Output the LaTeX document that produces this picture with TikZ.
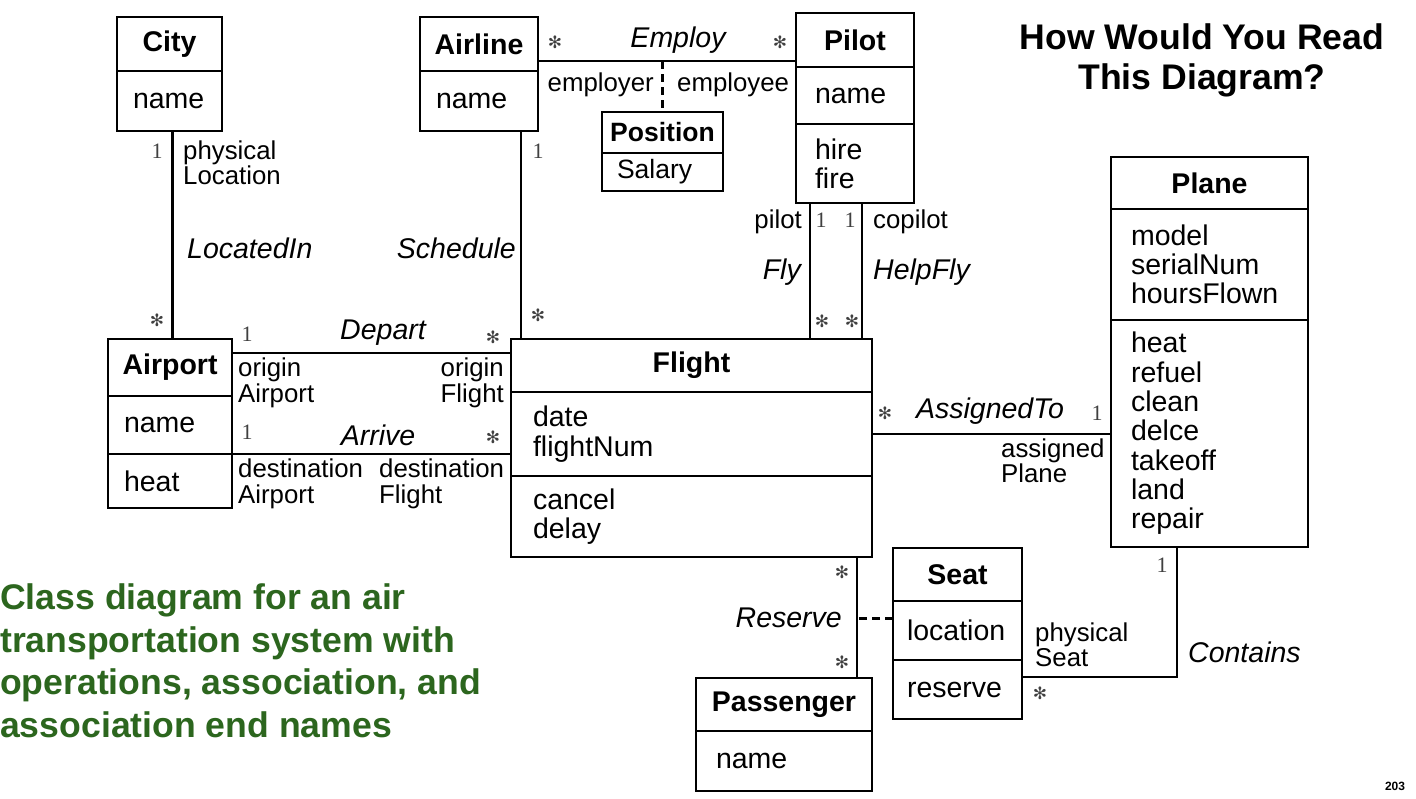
\documentclass[tikz,border=0pt]{standalone}
\usepackage{fontspec}
\setmainfont{Liberation Sans}
\newfontfamily\tms{Liberation Serif}
\newfontfamily\djv{DejaVu Sans}
\usetikzlibrary{positioning}

\newcommand{\cfont}{\fontsize{28.5}{29.3}\selectfont}
\newcommand{\efont}{\fontsize{25.8}{25.5}\selectfont}
\newcommand{\mfont}{\fontsize{22}{22}\selectfont\tms}
\newcommand{\mstar}{{\djv\fontsize{17}{17}\selectfont ✻}}
\definecolor{capgreen}{RGB}{44,102,30}

\tikzset{
  box/.style={draw, line width=1.8pt, inner sep=0pt, outer sep=0pt},
  head/.style={box, font=\cfont\bfseries},
  comp/.style={box, font=\cfont, align=left, inner xsep=18pt},
  assoc/.style={font=\cfont\itshape, inner sep=0pt},
  role/.style={font=\efont, align=left, inner sep=0pt},
  mult/.style={font=\mfont, text=black!75, inner sep=0pt},
  link/.style={line width=2.2pt},
}

\begin{document}
\begin{tikzpicture}[x=1pt, y=-1pt, node distance=0pt]
 \useasboundingbox (0,0) rectangle (1416,798);

 % classes
 \node[head, minimum width=105pt, minimum height=54pt, anchor=north west] (city) at (117,17) {City};
 \node[comp, inner xsep=16pt, text width=73pt, minimum height=60pt, below=of city] (cityattr) {name};

 \node[head, minimum width=118pt, minimum height=54pt, anchor=north west] (airline) at (420,17) {Airline};
 \node[comp, inner xsep=16pt, text width=86pt, minimum height=60pt, below=of airline] (airlineattr) {name};

 \node[head, minimum width=118pt, minimum height=54pt, anchor=north west] (pilot) at (796,13) {Pilot};
 \node[comp, inner xsep=19pt, text width=80pt, minimum height=57pt, below=of pilot] (pilotattr) {name};
 \node[comp, inner xsep=19pt, text width=80pt, minimum height=79pt, below=of pilotattr] (pilotops) {hire\\fire};

 \node[head, font=\fontsize{26.5}{27}\selectfont\bfseries, minimum width=121pt, minimum height=41pt, anchor=north west] (position) at (602,112) {Position};
 \node[comp, font=\fontsize{26.5}{27}\selectfont, inner xsep=15pt, text width=91pt, minimum height=38pt, below=of position] (positionattr) {Salary};

 \node[head, minimum width=197pt, minimum height=52pt, anchor=north west] (plane) at (1111,157) {Plane};
 \node[comp, inner xsep=20pt, text width=157pt, minimum height=111pt, below=of plane] (planeattr) {model\\serialNum\\hoursFlown};
 \node[comp, inner xsep=20pt, text width=157pt, minimum height=227pt, below=of planeattr] (planeops) {heat\\refuel\\clean\\delce\\takeoff\\land\\repair};

 \node[head, minimum width=124pt, minimum height=57pt, anchor=north west] (airport) at (108,339) {Airport};
 \node[comp, inner xsep=16pt, text width=92pt, minimum height=58pt, below=of airport] (airportattr) {name};
 \node[comp, inner xsep=16pt, text width=92pt, minimum height=54pt, below=of airportattr] (airportops) {heat};

 \node[head, minimum width=361pt, minimum height=53pt, anchor=north west] (flight) at (511,339) {Flight};
 \node[comp, inner xsep=22pt, text width=317pt, minimum height=84pt, below=of flight] (flightattr) {date\\flightNum};
 \node[comp, inner xsep=22pt, text width=317pt, minimum height=81pt, below=of flightattr] (flightops) {cancel\\delay};

 \node[head, minimum width=129pt, minimum height=53pt, anchor=north west] (seat) at (893,548) {Seat};
 \node[comp, inner xsep=14pt, text width=101pt, minimum height=59pt, below=of seat] (seatattr) {location};
 \node[comp, inner xsep=14pt, text width=101pt, minimum height=59pt, below=of seatattr] (seatops) {reserve};

 \node[head, minimum width=176pt, minimum height=53pt, anchor=north west] (passenger) at (696,678) {Passenger};
 \node[comp, inner xsep=20pt, text width=136pt, minimum height=60pt, below=of passenger] (passengerattr) {name};

 % associations
 \draw[link] ([xshift=3pt]cityattr.south) -- ([xshift=3pt]cityattr.south |- airport.north);
 \draw[link] ([xshift=10pt]flight.north west) -- ([xshift=10pt]flight.north west |- airlineattr.south);
 \draw[link] ([yshift=10pt]airline.south east) -- ([yshift=10pt]airline.south east -| pilot.west);
 \coordinate (emp) at ([yshift=10pt]airline.south east -| position.north);
 \draw[link, dash pattern=on 8pt off 5pt] (emp) -- (position.north);
 \draw[link] ([xshift=14pt]pilotops.south west) -- ([xshift=14pt]pilotops.south west |- flight.north);
 \draw[link] ([xshift=-10pt]flight.north east) -- ([xshift=-10pt]flight.north east |- pilotops.south);
 \draw[link] ([yshift=-14pt]airport.north east) -- ([yshift=-14pt]airport.north east -| flight.west);
 \draw[link] (airportattr.south east) -- (airportattr.south east -| flight.west);
 \draw[link] (flightattr.east) -- (flightattr.east -| plane.west);
 \coordinate (resx) at ([xshift=-15pt]flightops.south east);
 \draw[link] (resx) -- (resx |- passenger.north);
 \draw[link, dash pattern=on 8pt off 5pt] ([yshift=12pt]seatattr.west) -- ([yshift=12pt]seatattr.west -| resx);
 \draw[link] ([yshift=-17pt]seatops.north east) -| ([xshift=66pt]planeops.south west);

 % multiplicities
 \node[mult] (m1) at (157,151) {1};
 \node[mult] (m2) at (157,320) {\mstar};
 \node[mult] (m3) at (538,151) {1};
 \node[mult] (m4) at (538,315) {\mstar};
 \node[mult] (m5) at (555,42) {\mstar};
 \node[mult] (m6) at (780,42) {\mstar};
 \node[mult] (m7) at (821,220) {1};
 \node[mult] (m8) at (850,220) {1};
 \node[mult] (m9) at (822,321) {\mstar};
 \node[mult] (m10) at (852,321) {\mstar};
 \node[mult] (m11) at (247,334) {1};
 \node[mult] (m12) at (493,337) {\mstar};
 \node[mult] (m13) at (247,432) {1};
 \node[mult] (m14) at (493,437) {\mstar};
 \node[mult] (m15) at (885,413) {\mstar};
 \node[mult] (m16) at (1097,413) {1};
 \node[mult] (m17) at (842,572) {\mstar};
 \node[mult] (m18) at (842,662) {\mstar};
 \node[mult] (m19) at (1162,565) {1};
 \node[mult] (m20) at (1040,693) {\mstar};

 % association names
 \node[assoc, anchor=west] (locatedin) at (187,248) {LocatedIn};
 \node[assoc, anchor=east] (schedule) at (516,248) {Schedule};
 \node[assoc] (employ) at (678,40) {Employ};
 \node[assoc, anchor=east] (fly) at (801,272) {Fly};
 \node[assoc, anchor=west] (helpfly) at (873,272) {HelpFly};
 \node[assoc] (depart) at (383,333) {Depart};
 \node[assoc] (arrive) at (378,435) {Arrive};
 \node[assoc] (assignedto) at (990,411) {AssignedTo};
 \node[assoc, anchor=east] (reserve) at (842,618) {Reserve};
 \node[assoc, anchor=west] (contains) at (1188,652) {Contains};

 % end names
 \node[role, anchor=west] (physloc) at (183,163) {physical\\Location};
 \node[role, anchor=east] (employer) at (654,85) {employer};
 \node[role, anchor=west] (employee) at (677,85) {employee};
 \node[role, anchor=east] (pilotrole) at (802,222) {pilot};
 \node[role, anchor=west] (copilot) at (873,222) {copilot};
 \node[role, anchor=west] (origairport) at (238,383) {origin\\Airport};
 \node[role, anchor=east, align=right] (origflight) at (504,383) {origin\\Flight};
 \node[role, anchor=west] (destairport) at (238,484) {destination\\Airport};
 \node[role, anchor=west] (destflight) at (379,484) {destination\\Flight};
 \node[role, anchor=west] (assigned) at (1001,461) {assigned\\Plane};
 \node[role, anchor=west] (physseat) at (1035,645) {physical\\Seat};

 % slide texts
 \node[align=center, font=\fontsize{35.6}{40}\selectfont\bfseries] (question) at (1202,60) {How Would You Read\\This Diagram?};
 \node[align=left, anchor=west, inner sep=0pt, text=capgreen, font=\fontsize{35.6}{42.5}\selectfont\bfseries] (caption) at (0,661)
   {Class diagram for an air\\transportation system with\\operations, association, and\\association end names};
 \node[font=\fontsize{12}{12}\selectfont\bfseries] (pagenum) at (1395,786) {203};
\end{tikzpicture}
\end{document}
